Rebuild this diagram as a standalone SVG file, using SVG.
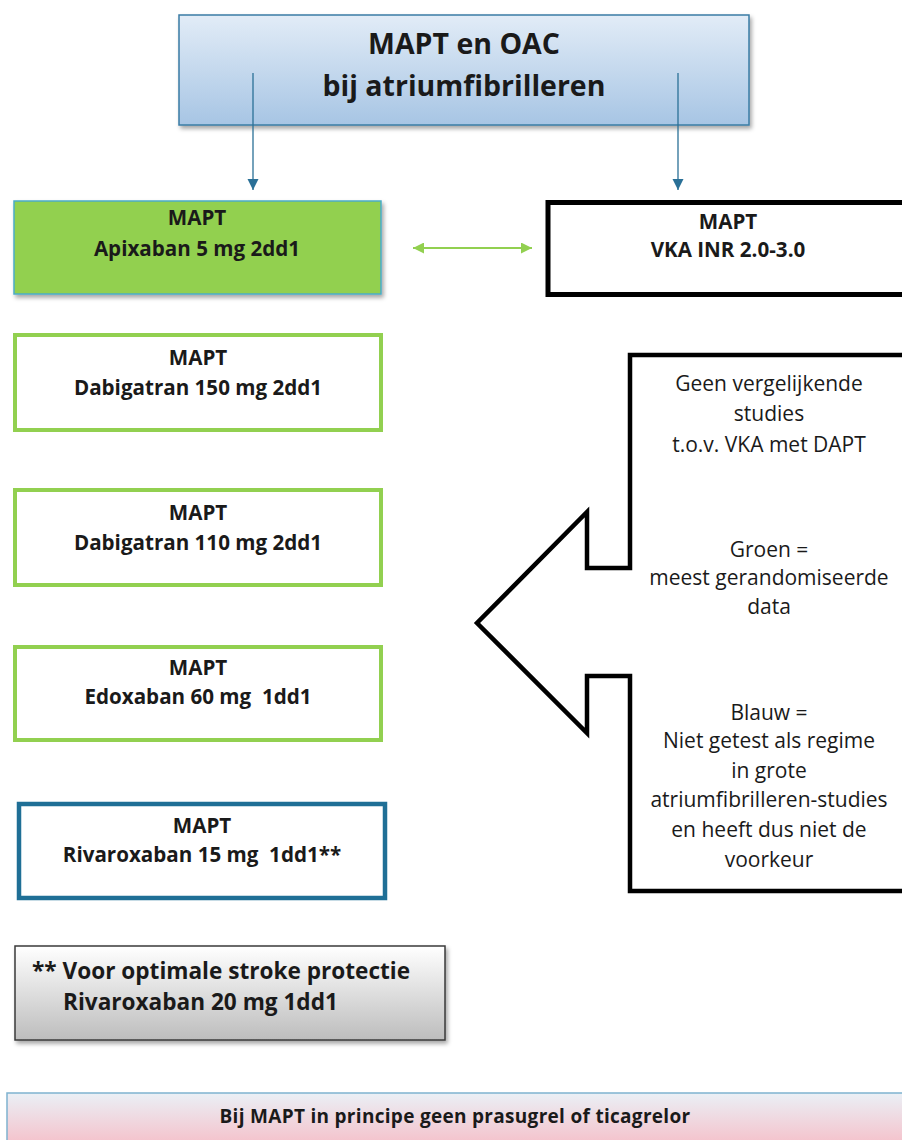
<svg xmlns="http://www.w3.org/2000/svg" width="902" height="1140" viewBox="0 0 902 1140">
<style>
.lbl{font-family:"Open Sans","Liberation Sans",sans-serif;font-weight:bold;font-size:20.6px;fill:#1a1a1a;text-anchor:middle}
.title{font-family:"Open Sans","Liberation Sans",sans-serif;font-weight:bold;font-size:28.5px;fill:#1a1a1a;text-anchor:middle}
.note{font-family:"Open Sans","Liberation Sans",sans-serif;font-size:21px;fill:#1a1a1a;text-anchor:middle}
.fn{font-family:"Open Sans","Liberation Sans",sans-serif;font-weight:bold;font-size:22.6px;fill:#1a1a1a}
.bar{font-family:"Open Sans","Liberation Sans",sans-serif;font-weight:bold;font-size:19px;letter-spacing:0.3px;fill:#1a1a1a;text-anchor:middle}
.green{fill:#ffffff;stroke:#92d050;stroke-width:4}
.conn{stroke:#2a7097;stroke-width:1.3;fill:none}
</style>
<defs>
<linearGradient id="gTop" x1="0" y1="0" x2="0" y2="1"><stop offset="0" stop-color="#e2ecf7"/><stop offset="1" stop-color="#a7c5e4"/></linearGradient>
<linearGradient id="gGray" x1="0" y1="0" x2="0" y2="1"><stop offset="0" stop-color="#ffffff"/><stop offset="1" stop-color="#bdbdbd"/></linearGradient>
<linearGradient id="gPink" x1="0" y1="0" x2="0" y2="1"><stop offset="0" stop-color="#eaf0f6"/><stop offset="1" stop-color="#f7b9c3"/></linearGradient>
<filter id="sh" x="-10%" y="-10%" width="125%" height="130%"><feDropShadow dx="2" dy="3" stdDeviation="2" flood-color="#000" flood-opacity="0.35"/></filter>
<marker id="ab" viewBox="0 0 10 10" refX="10" refY="5" markerWidth="11" markerHeight="12" markerUnits="userSpaceOnUse" orient="auto"><path d="M0,0 L10,5 L0,10 Z" fill="#2a7097"/></marker>
<marker id="ag" viewBox="0 0 10 10" refX="10" refY="5" markerWidth="12" markerHeight="11" markerUnits="userSpaceOnUse" orient="auto-start-reverse"><path d="M0,0 L10,5 L0,10 Z" fill="#92d050"/></marker>
</defs>

<g id="title">
<rect x="179" y="15" width="570" height="110" fill="url(#gTop)" stroke="#3a7ca5" stroke-width="1.5" filter="url(#sh)"/>
<text class="title" x="464" y="54">MAPT en OAC</text>
<text class="title" x="464" y="96">bij atriumfibrilleren</text>
</g>

<g id="connectors">
<line class="conn" x1="253" y1="73" x2="253" y2="190" marker-end="url(#ab)"/>
<line class="conn" x1="678" y1="73" x2="678" y2="190" marker-end="url(#ab)"/>
<line x1="413" y1="248" x2="532" y2="248" stroke="#92d050" stroke-width="2" marker-start="url(#ag)" marker-end="url(#ag)"/>
</g>

<g id="apixaban">
<rect x="14" y="201" width="367" height="93" fill="#92d050" stroke="#4bacc6" stroke-width="1.5" filter="url(#sh)"/>
<text class="lbl" x="197" y="225">MAPT</text>
<text class="lbl" x="197" y="256">Apixaban 5 mg 2dd1</text>
</g>

<g id="vka">
<rect x="548" y="202.5" width="370" height="92" fill="#ffffff" stroke="#000" stroke-width="5"/>
<text class="lbl" x="728" y="229">MAPT</text>
<text class="lbl" x="728" y="257">VKA INR 2.0-3.0</text>
</g>

<g id="dabigatran150">
<rect class="green" x="15" y="335" width="366" height="95"/>
<text class="lbl" x="198" y="365">MAPT</text>
<text class="lbl" x="198" y="395">Dabigatran 150 mg 2dd1</text>
</g>

<g id="dabigatran110">
<rect class="green" x="15" y="490" width="366" height="95"/>
<text class="lbl" x="198" y="520">MAPT</text>
<text class="lbl" x="198" y="550">Dabigatran 110 mg 2dd1</text>
</g>

<g id="edoxaban">
<rect class="green" x="15" y="647" width="366" height="93"/>
<text class="lbl" x="198" y="675">MAPT</text>
<text class="lbl" x="198" y="704" xml:space="preserve">Edoxaban 60 mg  1dd1</text>
</g>

<g id="rivaroxaban">
<rect x="19" y="804" width="366" height="94" fill="#ffffff" stroke="#1f6f96" stroke-width="4.5"/>
<text class="lbl" x="202" y="833">MAPT</text>
<text class="lbl" x="202" y="862" xml:space="preserve">Rivaroxaban 15 mg  1dd1**</text>
</g>

<g id="callout">
<path d="M910,355 L630,355 L630,568 L587,568 L587,512 L477,623 L587,733 L587,676 L630,676 L630,891 L910,891" fill="#ffffff" stroke="#000" stroke-width="4.5" stroke-linejoin="miter"/>
<text class="note" x="769" y="391">Geen vergelijkende</text>
<text class="note" x="769" y="421">studies</text>
<text class="note" x="769" y="452">t.o.v. VKA met DAPT</text>
<text class="note" x="769" y="557">Groen =</text>
<text class="note" x="769" y="585">meest gerandomiseerde</text>
<text class="note" x="769" y="614">data</text>
<text class="note" x="769" y="720">Blauw =</text>
<text class="note" x="769" y="748">Niet getest als regime</text>
<text class="note" x="769" y="778">in grote</text>
<text class="note" x="769" y="807">atriumfibrilleren-studies</text>
<text class="note" x="769" y="837">en heeft dus niet de</text>
<text class="note" x="769" y="867">voorkeur</text>
</g>

<g id="footnote">
<rect x="15" y="946" width="430" height="94" fill="url(#gGray)" stroke="#3a3a3a" stroke-width="1.5" filter="url(#sh)"/>
<text class="fn" x="32" y="979">** Voor optimale stroke protectie</text>
<text class="fn" x="63" y="1010">Rivaroxaban 20 mg 1dd1</text>
</g>

<g id="bottombar">
<rect x="7" y="1093" width="905" height="60" fill="url(#gPink)" stroke="#7fb3d0" stroke-width="1.5"/>
<text class="bar" x="455" y="1123">Bij MAPT in principe geen prasugrel of ticagrelor</text>
</g>
</svg>
